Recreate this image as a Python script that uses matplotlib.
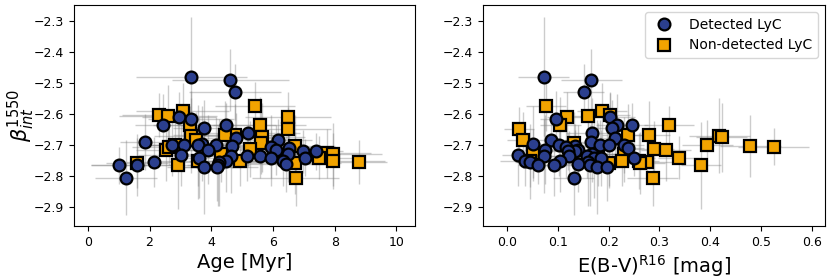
import matplotlib
matplotlib.use("Agg")
import matplotlib.pyplot as plt
import numpy as np

# Detected LyC
det_age = [3.36, 4.62, 4.77, 2.97, 3.35, 2.43, 4.49, 3.76, 5.18, 4.80, 6.15, 1.84, 3.71,
           2.73, 3.13, 3.57, 4.15, 4.66, 5.94, 6.53, 3.89, 6.10, 6.97, 7.38, 6.48, 3.02,
           4.63, 5.15, 5.58, 3.60, 5.92, 7.03, 4.49, 6.32, 2.15, 4.25, 6.43, 1.00, 1.60,
           4.22, 3.76, 4.20, 1.25]
det_ebv = [0.072, 0.166, 0.151, 0.203, 0.096, 0.216, 0.247, 0.206, 0.167, 0.212, 0.087, 0.166, 0.051,
           0.103, 0.183, 0.200, 0.230, 0.133, 0.116, 0.239, 0.074, 0.140, 0.133, 0.120, 0.167, 0.021,
           0.072, 0.123, 0.157, 0.172, 0.186, 0.251, 0.105, 0.036, 0.046, 0.160, 0.140, 0.062, 0.092,
           0.164, 0.177, 0.197, 0.131]
det_beta = [-2.480, -2.490, -2.530, -2.610, -2.615, -2.635, -2.635, -2.645, -2.660, -2.678, -2.685, -2.690, -2.695,
            -2.700, -2.700, -2.700, -2.700, -2.703, -2.705, -2.710, -2.715, -2.715, -2.720, -2.720, -2.730, -2.733,
            -2.735, -2.735, -2.735, -2.740, -2.740, -2.740, -2.750, -2.750, -2.755, -2.755, -2.760, -2.765, -2.765,
            -2.765, -2.770, -2.770, -2.805]
det_age_err = [1.8, 1.9, 1.5, 1.2, 1.4, 0.9, 1.6, 1.0, 1.7, 1.3, 1.1, 0.8, 1.2,
               0.9, 1.5, 1.0, 1.3, 1.2, 1.4, 1.6, 0.8, 1.2, 1.1, 0.9, 1.5, 1.4,
               1.8, 1.0, 1.3, 0.9, 1.5, 1.0, 1.2, 1.1, 0.9, 1.4, 1.3, 0.9, 1.5,
               1.0, 1.2, 1.3, 1.0]
det_ebv_err = [0.05, 0.06, 0.04, 0.05, 0.03, 0.04, 0.03, 0.04, 0.05, 0.03, 0.04, 0.04, 0.03,
               0.04, 0.05, 0.03, 0.04, 0.03, 0.04, 0.03, 0.04, 0.05, 0.03, 0.04, 0.05, 0.03,
               0.04, 0.05, 0.03, 0.04, 0.03, 0.04, 0.03, 0.05, 0.03, 0.04, 0.03, 0.04, 0.05,
               0.03, 0.04, 0.03, 0.04]
det_beta_err = [0.19, 0.10, 0.09, 0.08, 0.09, 0.10, 0.07, 0.09, 0.11, 0.08, 0.07, 0.09, 0.12,
                0.10, 0.08, 0.13, 0.09, 0.07, 0.10, 0.06, 0.11, 0.08, 0.07, 0.06, 0.09, 0.10,
                0.12, 0.08, 0.07, 0.13, 0.09, 0.06, 0.10, 0.08, 0.08, 0.14, 0.09, 0.06, 0.10,
                0.13, 0.15, 0.11, 0.12]

# Non-detected LyC
non_age = [5.42, 3.07, 2.31, 2.60, 6.49, 3.31, 5.57, 6.48, 4.77, 4.46, 3.35, 5.64, 3.51,
           5.62, 2.84, 6.71, 5.24, 2.55, 2.62, 7.76, 4.33, 7.93, 7.49, 4.93, 7.93, 8.78,
           1.60, 3.57, 6.71, 2.91, 6.73]
non_ebv = [0.077, 0.187, 0.203, 0.159, 0.118, 0.319, 0.105, 0.024, 0.238, 0.280, 0.418, 0.423, 0.031,
           0.131, 0.394, 0.479, 0.289, 0.313, 0.525, 0.052, 0.230, 0.180, 0.338, 0.226, 0.260, 0.275,
           0.200, 0.045, 0.262, 0.382, 0.287]
non_beta = [-2.576, -2.590, -2.603, -2.606, -2.610, -2.635, -2.637, -2.647, -2.667, -2.668, -2.670, -2.675, -2.685,
            -2.693, -2.700, -2.703, -2.712, -2.715, -2.705, -2.727, -2.730, -2.730, -2.740, -2.752, -2.752, -2.755,
            -2.757, -2.752, -2.757, -2.765, -2.806]
non_age_err = [1.3, 1.5, 1.2, 1.6, 1.4, 1.2, 1.5, 1.4, 1.6, 1.7, 1.2, 1.4, 1.0,
               1.3, 1.1, 1.3, 1.5, 1.0, 1.2, 1.4, 1.3, 1.6, 1.5, 1.2, 1.7, 0.9,
               1.0, 1.2, 1.5, 1.3, 1.4]
non_ebv_err = [0.04, 0.05, 0.04, 0.05, 0.04, 0.05, 0.04, 0.03, 0.05, 0.04, 0.06, 0.05, 0.03,
               0.04, 0.05, 0.06, 0.04, 0.05, 0.07, 0.03, 0.04, 0.05, 0.04, 0.05, 0.04, 0.05,
               0.04, 0.03, 0.05, 0.04, 0.05]
non_beta_err = [0.08, 0.09, 0.07, 0.10, 0.08, 0.06, 0.09, 0.07, 0.10, 0.11, 0.12, 0.11, 0.09,
                0.10, 0.08, 0.10, 0.09, 0.10, 0.06, 0.08, 0.09, 0.10, 0.07, 0.08, 0.09, 0.07,
                0.08, 0.12, 0.10, 0.14, 0.09]

det_color = "#2b3f8e"
non_color = "#f2a400"
err_kw = dict(fmt="none", ecolor="gray", alpha=0.4, elinewidth=1.0, zorder=1)

fig = plt.figure(figsize=(8.3, 2.8), dpi=100)
ax1 = fig.add_axes([0.089, 0.193, 0.411, 0.789])
ax2 = fig.add_axes([0.582, 0.193, 0.412, 0.789])

for ax, xd, xn, xde, xne in [(ax1, det_age, non_age, det_age_err, non_age_err),
                             (ax2, det_ebv, non_ebv, det_ebv_err, non_ebv_err)]:
    ax.errorbar(xd, det_beta, xerr=xde, yerr=det_beta_err, **err_kw)
    ax.errorbar(xn, non_beta, xerr=xne, yerr=non_beta_err, **err_kw)
    ax.plot(xn, non_beta, "s", color=non_color, mec="black", mew=1.6, ms=8,
            zorder=3, label="Non-detected LyC")
    ax.plot(xd, det_beta, "o", color=det_color, mec="black", mew=1.6, ms=8.5,
            zorder=4, label="Detected LyC")
    ax.set_ylim(-2.96, -2.25)
    ax.set_yticks([-2.9, -2.8, -2.7, -2.6, -2.5, -2.4, -2.3])
    ax.tick_params(labelsize=9)

ax1.set_xlim(-0.45, 10.6)
ax1.set_xticks([0, 2, 4, 6, 8, 10])
ax2.set_xlim(-0.047, 0.626)
ax2.set_xticks([0.0, 0.1, 0.2, 0.3, 0.4, 0.5, 0.6])

ax1.set_xlabel("Age [Myr]", fontsize=14, labelpad=3)
ax2.set_xlabel(r"E(B-V)$^{\rm R16}$ [mag]", fontsize=14, labelpad=3)
ax1.set_ylabel(r"$\beta^{1550}_{int}$", fontsize=15, labelpad=-2)

h, l = ax2.get_legend_handles_labels()
ax2.legend([h[1], h[0]], [l[1], l[0]], loc="upper right", fontsize=10)

fig.savefig("out.png", dpi=100)
